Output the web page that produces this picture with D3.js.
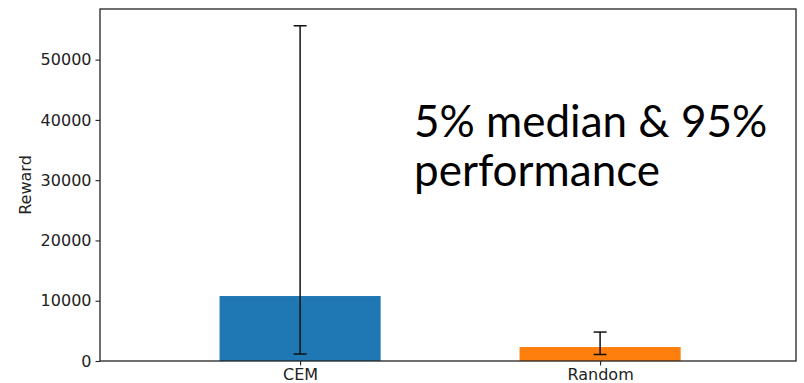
<!DOCTYPE html>
<html>
<head>
<meta charset="utf-8">
<script src="https://cdn.jsdelivr.net/npm/d3@7"></script>
<style>
  html, body { margin: 0; padding: 0; background: #fff; }
  svg { display: block; }
</style>
</head>
<body>
<svg id="chart" width="804" height="383"></svg>
<script>
// Median reward per method, with 5th and 95th percentile whiskers
const categories = ["CEM", "Random"];
const medians = [10780, 2320];
const p5 = [1160, 1080];
const p95 = [55620, 4800];
const yTicks = [0, 10000, 20000, 30000, 40000, 50000];
const barColors = ["#1f77b4", "#ff7f0e"];
const noteLines = ["5% median & 95%", "performance"];

const W = 804, H = 383;
const margin = { left: 100, right: 8, top: 9, bottom: 22 };
const svg = d3.select("#chart");

const yMax = d3.max(p95) * 1.05;
const x = d3.scaleLinear().domain([-0.667, 1.653]).range([margin.left, W - margin.right]);
const y = d3.scaleLinear().domain([0, yMax]).range([H - margin.bottom, margin.top]);
const barW = 0.537;

const g = svg.append("g");

// bars
g.selectAll("rect.bar").data(categories).join("rect")
  .attr("class", "bar")
  .attr("x", (d, i) => x(i - barW / 2))
  .attr("width", (d, i) => x(barW) - x(0))
  .attr("y", (d, i) => y(medians[i]))
  .attr("height", (d, i) => y(0) - y(medians[i]))
  .attr("fill", (d, i) => barColors[i]);

// error bars
const capHalf = 6.5;
const eb = g.selectAll("g.err").data(categories).join("g").attr("class", "err")
  .attr("stroke", "#111").attr("stroke-width", 1.5);
eb.append("line")
  .attr("x1", (d, i) => x(i)).attr("x2", (d, i) => x(i))
  .attr("y1", (d, i) => y(p5[i])).attr("y2", (d, i) => y(p95[i]));
eb.append("line")
  .attr("x1", (d, i) => x(i) - capHalf).attr("x2", (d, i) => x(i) + capHalf)
  .attr("y1", (d, i) => y(p5[i])).attr("y2", (d, i) => y(p5[i]));
eb.append("line")
  .attr("x1", (d, i) => x(i) - capHalf).attr("x2", (d, i) => x(i) + capHalf)
  .attr("y1", (d, i) => y(p95[i])).attr("y2", (d, i) => y(p95[i]));

// axes
const fontFam = "'DejaVu Sans', sans-serif";
const yAxis = d3.axisLeft(y).tickValues(yTicks).tickFormat(d3.format("d")).tickSize(4.5).tickPadding(4);
const yg = svg.append("g").attr("transform", `translate(${margin.left},0)`).call(yAxis);
yg.select(".domain").remove();
yg.selectAll("text").attr("font-family", fontFam).attr("font-size", 16).attr("fill", "#222");
yg.selectAll("line").attr("stroke", "#222").attr("stroke-width", 1.1);

const xAxis = d3.axisBottom(x).tickValues([0, 1]).tickFormat(i => categories[i]).tickSize(4.5).tickPadding(3);
const xg = svg.append("g").attr("transform", `translate(0,${H - margin.bottom})`).call(xAxis);
xg.select(".domain").remove();
xg.selectAll("text").attr("font-family", fontFam).attr("font-size", 16).attr("fill", "#222");
xg.selectAll("line").attr("stroke", "#222").attr("stroke-width", 1.1);

// frame
svg.append("rect")
  .attr("x", margin.left).attr("y", margin.top)
  .attr("width", W - margin.right - margin.left)
  .attr("height", H - margin.bottom - margin.top)
  .attr("fill", "none").attr("stroke", "#222").attr("stroke-width", 1.3);

// y label
svg.append("text")
  .attr("transform", `translate(31,${(margin.top + H - margin.bottom) / 2}) rotate(-90)`)
  .attr("text-anchor", "middle")
  .attr("font-family", fontFam).attr("font-size", 16).attr("fill", "#222")
  .text("Reward");

// note
svg.append("g").selectAll("text").data(noteLines).join("text")
  .attr("x", 414)
  .attr("y", (d, i) => 137 + i * 49)
  .attr("font-family", "Lato, 'Open Sans', sans-serif")
  .attr("font-size", 44)
  .attr("fill", "#000")
  .text(d => d);
</script>
</body>
</html>
